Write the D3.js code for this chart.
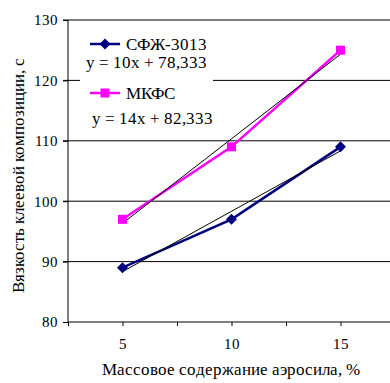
<!DOCTYPE html>
<html>
<head>
<meta charset="utf-8">
<script src="https://cdn.jsdelivr.net/npm/d3@7"></script>
<style>
  @font-face { font-family: "ChartSerif"; src: local("Liberation Serif"), local("LiberationSerif"), local("Tinos"); }
  body { margin: 0; }
  text { font-family: "ChartSerif", "Liberation Serif", Tinos !important; }
</style>
</head>
<body>
<script>
// data
var xValues = [5, 10, 15];
var sfzValues = [89, 97, 109];     // СФЖ-3013
var mkfsValues = [97, 109, 125];   // МКФС
var seriesNames = ["СФЖ-3013", "МКФС"];
var seriesColors = ["#000080", "#ff00ff"];
// trend lines y = a*n + b, n = 1..3
var trendSlopes = [10, 14];
var trendIntercepts = [78.333, 82.333];
var trendLabels = ["y = 10x + 78,333", "y = 14x + 82,333"];
var yTicks = [80, 90, 100, 110, 120, 130];
var xTicks = [2.5, 5, 7.5, 10, 12.5, 15, 17.5];
var xLabels = [5, 10, 15];

var width = 390, height = 383;
var svg = d3.select("body").append("svg")
    .attr("width", width).attr("height", height);

var x = d3.scaleLinear().domain([2.5, 17.5]).range([68, 395]);
var y = d3.scaleLinear().domain([80, 130]).range([322, 20]);

// gridlines
svg.append("g").selectAll("line")
  .data(yTicks.filter(function(d){ return d > 80; }))
  .enter().append("line")
    .attr("x1", 63).attr("x2", width)
    .attr("y1", function(d){ return y(d); })
    .attr("y2", function(d){ return y(d); })
    .attr("stroke", "#000").attr("stroke-width", 1);

// y axis
var yAxis = svg.append("g").attr("transform", "translate(68,0)")
  .call(d3.axisLeft(y).tickValues(yTicks).tickSize(5).tickPadding(5));
yAxis.attr("font-family", null).attr("font-size", 15);
yAxis.select(".domain").attr("stroke", "#000").attr("d", "M0,20V322");

// x axis
var xAxis = svg.append("g").attr("transform", "translate(0,322)")
  .call(d3.axisBottom(x).tickValues(xTicks).tickSize(4)
    .tickFormat(function(d){ return xLabels.indexOf(d) >= 0 ? d : ""; })
    .tickPadding(12));
xAxis.attr("font-family", null).attr("font-size", 15);
xAxis.select(".domain").attr("d", "M68,0H" + width);

// legend background (covers gridline)
svg.append("rect").attr("x", 80).attr("y", 22).attr("width", 133).attr("height", 113)
  .attr("fill", "#fff");

var allSeries = [sfzValues, mkfsValues];
var line = d3.line()
  .x(function(d, i){ return x(xValues[i]); })
  .y(function(d){ return y(d); });

allSeries.forEach(function(vals, s) {
  svg.append("path").datum(vals)
    .attr("d", line).attr("fill", "none")
    .attr("stroke", seriesColors[s]).attr("stroke-width", 2.5);
  // trend line
  var tr = xValues.map(function(d, i){ return trendSlopes[s] * (i + 1) + trendIntercepts[s]; });
  svg.append("path").datum(tr)
    .attr("d", line).attr("fill", "none")
    .attr("stroke", "#000").attr("stroke-width", 1);
});

// markers
function marker(g, s, cx, cy) {
  if (s === 0) {
    g.append("path").attr("d", "M" + cx + "," + (cy - 5.5) + "L" + (cx + 5.5) + "," + cy +
        "L" + cx + "," + (cy + 5.5) + "L" + (cx - 5.5) + "," + cy + "Z")
      .attr("fill", seriesColors[s]);
  } else {
    g.append("rect").attr("x", cx - 4.5).attr("y", cy - 4.5)
      .attr("width", 9).attr("height", 9).attr("fill", seriesColors[s]);
  }
}
allSeries.forEach(function(vals, s) {
  var g = svg.append("g");
  vals.forEach(function(v, i){ marker(g, s, x(xValues[i]), y(v)); });
});

// legend
var legY = [44, 93];
var eqPos = [[86, 68], [92, 124]];
seriesNames.forEach(function(name, s) {
  var g = svg.append("g");
  g.append("line").attr("x1", 90).attr("x2", 120)
    .attr("y1", legY[s]).attr("y2", legY[s])
    .attr("stroke", seriesColors[s]).attr("stroke-width", 2.5);
  marker(g, s, 105, legY[s]);
  g.append("text").attr("x", 126).attr("y", legY[s] + 6)
    .attr("font-size", 17).text(name);
  svg.append("text").attr("x", eqPos[s][0]).attr("y", eqPos[s][1])
    .attr("font-size", 17).text(trendLabels[s]);
});

// axis titles
svg.append("text").attr("x", 231).attr("y", 375).attr("text-anchor", "middle")
  .attr("font-size", 17).text("Массовое содержание аэросила, %");
svg.append("text").attr("transform", "translate(24,175) rotate(-90)")
  .attr("text-anchor", "middle").attr("font-size", 17)
  .text("Вязкость клеевой композиции, с");
</script>
</body>
</html>
